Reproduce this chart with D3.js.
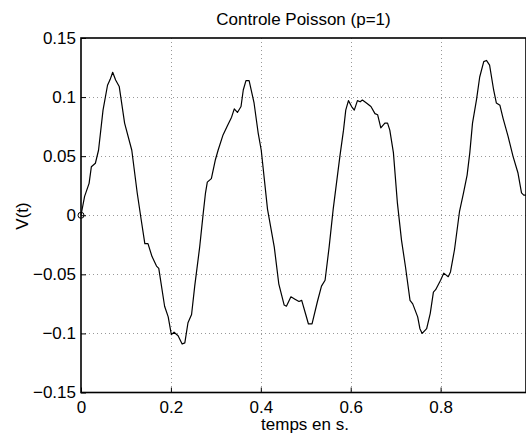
<!DOCTYPE html>
<html>
<head>
<meta charset="utf-8">
<script src="https://cdn.jsdelivr.net/npm/d3@7"></script>
<style>
  body { margin: 0; background: #fff; }
  svg { display: block; }
</style>
</head>
<body>
<div id="vizcont"></div>
<script>
// temps (s) and V(t)
var timeValues = [0, 0.008, 0.018, 0.023, 0.032, 0.039, 0.049, 0.059, 0.065, 0.0705, 0.077, 0.085, 0.097, 0.113, 0.125, 0.134, 0.142, 0.149, 0.158, 0.168, 0.173, 0.186, 0.194, 0.201, 0.207, 0.216, 0.225, 0.231, 0.238, 0.246, 0.253, 0.264, 0.272, 0.277, 0.281, 0.290, 0.299, 0.305, 0.316, 0.326, 0.335, 0.341, 0.348, 0.356, 0.361, 0.367, 0.374, 0.385, 0.394, 0.401, 0.415, 0.430, 0.440, 0.452, 0.457, 0.467, 0.476, 0.485, 0.491, 0.500, 0.506, 0.514, 0.526, 0.535, 0.543, 0.552, 0.561, 0.576, 0.584, 0.589, 0.595, 0.602, 0.608, 0.615, 0.621, 0.626, 0.635, 0.645, 0.654, 0.660, 0.667, 0.676, 0.682, 0.687, 0.695, 0.704, 0.713, 0.722, 0.732, 0.738, 0.749, 0.754, 0.759, 0.769, 0.777, 0.784, 0.789, 0.800, 0.807, 0.817, 0.822, 0.831, 0.842, 0.851, 0.859, 0.865, 0.871, 0.880, 0.887, 0.896, 0.902, 0.909, 0.918, 0.924, 0.932, 0.939, 0.950, 0.961, 0.972, 0.980, 0.985, 0.990];
var voltageValues = [0, 0.016, 0.027, 0.041, 0.044, 0.055, 0.089, 0.110, 0.115, 0.121, 0.1145, 0.109, 0.078, 0.055, 0.019, -0.004, -0.024, -0.024, -0.035, -0.043, -0.045, -0.077, -0.086, -0.101, -0.099, -0.102, -0.109, -0.108, -0.091, -0.084, -0.060, -0.027, 0.002, 0.019, 0.028, 0.031, 0.047, 0.055, 0.068, 0.076, 0.083, 0.090, 0.087, 0.092, 0.106, 0.114, 0.114, 0.095, 0.070, 0.055, 0.005, -0.027, -0.058, -0.076, -0.077, -0.069, -0.071, -0.073, -0.072, -0.084, -0.092, -0.092, -0.073, -0.060, -0.055, -0.027, 0.005, 0.050, 0.072, 0.089, 0.097, 0.092, 0.089, 0.097, 0.096, 0.0975, 0.095, 0.092, 0.086, 0.085, 0.074, 0.078, 0.078, 0.072, 0.053, 0.010, -0.021, -0.044, -0.072, -0.075, -0.086, -0.096, -0.100, -0.096, -0.083, -0.065, -0.063, -0.055, -0.049, -0.052, -0.048, -0.029, 0.003, 0.019, 0.034, 0.053, 0.078, 0.098, 0.117, 0.130, 0.131, 0.127, 0.106, 0.095, 0.093, 0.082, 0.067, 0.050, 0.036, 0.019, 0.017, 0.017];

var xTicks = [0, 0.2, 0.4, 0.6, 0.8];
var yTicks = [0.15, 0.1, 0.05, 0, -0.05, -0.1, -0.15];
var yTickLabels = ["0.15", "0.1", "0.05", "0", "\u22120.05", "\u22120.1", "\u22120.15"];

var margin = {top: 38, right: 0, bottom: 43.5, left: 81};
var width = 526 - margin.left - margin.right;
var height = 436 - margin.top - margin.bottom;
var fontFam = "'Liberation Sans', Arial, Helvetica, sans-serif";

var svg = d3.select("#vizcont")
    .append("svg")
    .attr("width", 526)
    .attr("height", 436);

var g = svg.append("g")
    .attr("transform", "translate(" + margin.left + "," + margin.top + ")");

var x = d3.scaleLinear().domain([0, 0.99]).range([0, width]);
var y = d3.scaleLinear().domain([-0.15, 0.15]).range([height, 0]);

// dotted grid
g.append("g")
    .selectAll("line")
    .data(xTicks.slice(1))
    .enter()
    .append("line")
    .attr("x1", function(d) { return Math.round(x(d)) + 0.5; })
    .attr("x2", function(d) { return Math.round(x(d)) + 0.5; })
    .attr("y1", 0)
    .attr("y2", height)
    .attr("stroke", "#999")
    .style("stroke-dasharray", "1,3");

g.append("g")
    .selectAll("line")
    .data(yTicks.slice(1, -1))
    .enter()
    .append("line")
    .attr("x1", 0)
    .attr("x2", width)
    .attr("y1", function(d) { return Math.round(y(d)) + 0.5; })
    .attr("y2", function(d) { return Math.round(y(d)) + 0.5; })
    .attr("stroke", "#999")
    .style("stroke-dasharray", "1,3");

// x axis (ticks point inward like matlab)
var xAxis = g.append("g")
    .attr("transform", "translate(0," + height + ")")
    .call(d3.axisBottom(x).tickValues(xTicks).tickSize(-5).tickPadding(8)
        .tickFormat(function(d) { return d === 0 ? "0" : d3.format(".1f")(d); }));
xAxis.select(".domain").remove();
xAxis.selectAll("text").style("font", "17px " + fontFam).attr("fill", "#000");

// y axis
var yAxis = g.append("g")
    .call(d3.axisLeft(y).tickValues(yTicks).tickSize(-5).tickPadding(5)
        .tickFormat(function(d, i) { return yTickLabels[i]; }));
yAxis.select(".domain").remove();
yAxis.selectAll("text").style("font", "17px " + fontFam).attr("fill", "#000");

// box around plot
g.append("rect")
    .attr("x", 0)
    .attr("y", 0)
    .attr("width", width)
    .attr("height", height)
    .attr("fill", "none")
    .attr("stroke", "#000")
    .style("stroke-width", "1.6px");

// signal
var line = d3.line()
    .x(function(d) { return x(d[0]); })
    .y(function(d) { return y(d[1]); });

var pts = timeValues.map(function(t, i) { return [t, voltageValues[i]]; });

g.append("path")
    .datum(pts)
    .attr("d", line)
    .attr("fill", "none")
    .attr("stroke", "#000")
    .style("stroke-width", "1.2px")
    .style("stroke-linejoin", "round");

// small circle at origin
g.append("circle")
    .attr("cx", x(0))
    .attr("cy", y(0))
    .attr("r", 3)
    .attr("fill", "none")
    .attr("stroke", "#000");

// title and labels
svg.append("text")
    .attr("x", margin.left + width / 2)
    .attr("y", 25)
    .attr("text-anchor", "middle")
    .style("font", "17px " + fontFam)
    .text("Controle Poisson (p=1)");

svg.append("text")
    .attr("x", 305)
    .attr("y", 430)
    .attr("text-anchor", "middle")
    .style("font", "17px " + fontFam)
    .text("temps en s.");

svg.append("text")
    .attr("transform", "translate(28,216) rotate(-90)")
    .attr("text-anchor", "middle")
    .style("font", "17px " + fontFam)
    .text("V(t)");
</script>
</body>
</html>
